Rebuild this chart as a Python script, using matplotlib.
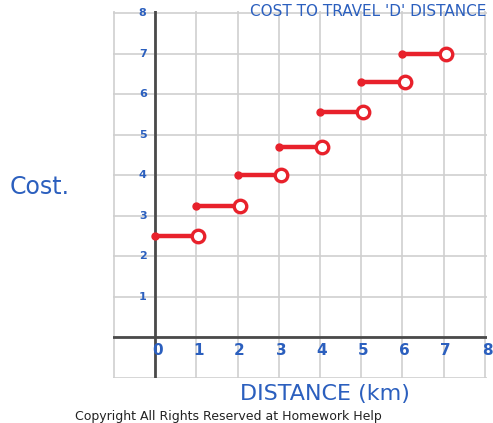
import matplotlib
matplotlib.use("Agg")
import matplotlib.pyplot as plt

# Data: step function cost vs distance
step_starts = [0, 1, 2, 3, 4, 5, 6]
step_ends = [1, 2, 3, 4, 5, 6, 7]
costs = [2.5, 3.25, 4.0, 4.7, 5.55, 6.3, 7.0]
x_tick_labels = ["0", "1", "2", "3", "4", "5", "6", "7", "8"]
y_tick_labels = ["1", "2", "3", "4", "5", "6", "7", "8"]

RED = "#e8212b"
BLUE = "#2b5fbe"

fig = plt.figure(figsize=(4.93, 4.23), dpi=100)
ax = fig.add_axes([113 / 493, 45 / 423, 374 / 493, 367 / 423])
ax.set_xlim(-1.02, 8.05)
ax.set_ylim(-1.0, 8.05)
for s in ax.spines.values():
    s.set_visible(False)
ax.set_xticks([])
ax.set_yticks([])

# grid
for k in range(-1, 9):
    ax.axvline(k, color="#cfcfcf", lw=1.2, zorder=0)
    ax.axhline(k, color="#cfcfcf", lw=1.2, zorder=0)
ax.axvline(0, color="#4a4a4a", lw=2.0, zorder=1)
ax.axhline(0, color="#4a4a4a", lw=2.0, zorder=1)

# steps
for x0, x1, c in zip(step_starts, step_ends, costs):
    ax.plot([x0, x1], [c, c], color=RED, lw=3.2, solid_capstyle="round", zorder=3)
    ax.plot([x0], [c], "o", color=RED, ms=5, zorder=4)
    ax.plot([x1 + 0.05], [c], "o", mfc="white", mec=RED, mew=2.4, ms=9, zorder=4)

# handwritten-like tick labels
for i, lab in enumerate(x_tick_labels):
    ax.text(i + 0.05, -0.33, lab, color=BLUE, fontsize=11, fontweight="bold",
            ha="center", va="center", zorder=5)
for i, lab in enumerate(y_tick_labels):
    ax.text(-0.3, i + 1, lab, color=BLUE, fontsize=8, fontweight="bold",
            ha="center", va="center", zorder=5)

fig.text(10 / 493, 1 - 187 / 423, "Cost.", color=BLUE, fontsize=17,
         ha="left", va="center")
fig.text(325 / 493, 1 - 394 / 423, "DISTANCE (km)", color=BLUE, fontsize=16,
         ha="center", va="center")
fig.text(75 / 493, 1 - 416 / 423, "Copyright All Rights Reserved at Homework Help",
         color="#222222", fontsize=9, ha="left", va="center")
fig.text(250 / 493, 1 - 12 / 423, "COST TO TRAVEL 'D' DISTANCE", color=BLUE,
         fontsize=11, ha="left", va="center")

fig.savefig("out.png", dpi=100)
